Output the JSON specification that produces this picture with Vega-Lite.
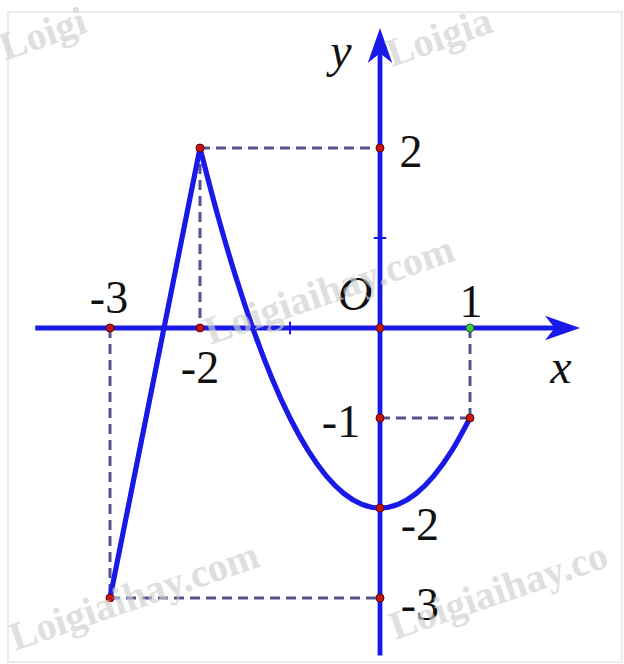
{
  "$schema": "https://vega.github.io/schema/vega-lite/v6.json",
  "width": 624,
  "height": 664,
  "autosize": {"type": "fit", "contains": "padding"},
  "padding": 0,
  "background": "white",
  "config": {"view": {"stroke": null}},
  "datasets": {
    "border": [{"x": -4.133, "y": 3.511, "x2": 2.689, "y2": -3.711}],
    "dash": [
      {"x": -2, "y": 2, "x2": 0, "y2": 2},
      {"x": -2, "y": 2, "x2": -2, "y2": 0},
      {"x": -3, "y": 0, "x2": -3, "y2": -3},
      {"x": -3, "y": -3, "x2": 0, "y2": -3},
      {"x": 1, "y": 0, "x2": 1, "y2": -1},
      {"x": 0, "y": -1, "x2": 1, "y2": -1}
    ],
    "axes": [
      {"x": -3.83, "y": 0, "x2": 2.05, "y2": 0},
      {"x": 0, "y": -3.64, "x2": 0, "y2": 3.1}
    ],
    "ticks": [
      {"x": -1, "y": -0.07, "x2": -1, "y2": 0.07},
      {"x": -0.07, "y": 1, "x2": 0.07, "y2": 1}
    ],
    "curve": [
      {"s": "a", "x": -3, "y": -3},
      {"s": "a", "x": -2, "y": 2},
      {"s": "b", "x": -2, "y": 2},
      {"s": "b", "x": -1.8, "y": 1.24},
      {"s": "b", "x": -1.6, "y": 0.56},
      {"s": "b", "x": -1.4, "y": -0.04},
      {"s": "b", "x": -1.2, "y": -0.56},
      {"s": "b", "x": -1, "y": -1},
      {"s": "b", "x": -0.8, "y": -1.36},
      {"s": "b", "x": -0.6, "y": -1.64},
      {"s": "b", "x": -0.4, "y": -1.84},
      {"s": "b", "x": -0.2, "y": -1.96},
      {"s": "b", "x": 0, "y": -2},
      {"s": "b", "x": 0.2, "y": -1.96},
      {"s": "b", "x": 0.4, "y": -1.84},
      {"s": "b", "x": 0.6, "y": -1.64},
      {"s": "b", "x": 0.8, "y": -1.36},
      {"s": "b", "x": 1, "y": -1}
    ],
    "reddots": [
      {"x": -2, "y": 2}, {"x": 0, "y": 2}, {"x": -3, "y": 0}, {"x": -2, "y": 0},
      {"x": 0, "y": 0}, {"x": 0, "y": -1}, {"x": 1, "y": -1}, {"x": 0, "y": -2},
      {"x": -3, "y": -3}, {"x": 0, "y": -3}
    ],
    "greendots": [{"x": 1, "y": 0}],
    "labels": [
      {"x": 0.344, "y": 1.789, "t": "2"},
      {"x": -3.011, "y": 0.167, "t": "-3"},
      {"x": -2.0, "y": -0.611, "t": "-2"},
      {"x": 1.011, "y": 0.122, "t": "1"},
      {"x": -0.433, "y": -1.211, "t": "-1"},
      {"x": 0.444, "y": -2.356, "t": "-2"},
      {"x": 0.444, "y": -3.244, "t": "-3"}
    ],
    "ilabels": [
      {"x": -0.433, "y": 2.9, "t": "y"},
      {"x": -0.278, "y": 0.2, "t": "O"},
      {"x": 2.011, "y": -0.611, "t": "x"}
    ],
    "marks": [
      {"x": -4.167, "y": 2.97, "t": "Loigi"},
      {"x": 0.133, "y": 2.9, "t": "Loigia"},
      {"x": -1.889, "y": -0.189, "t": "Loigiaihay.com"},
      {"x": -4.056, "y": -3.589, "t": "Loigiaihay.com"},
      {"x": 0.167, "y": -3.467, "t": "Loigiaihay.co"}
    ]
  },
  "encoding": {
    "x": {"field": "x", "type": "quantitative", "axis": null, "scale": {"domain": [-4.2222, 2.7111], "nice": false, "zero": false}},
    "y": {"field": "y", "type": "quantitative", "axis": null, "scale": {"domain": [-3.7333, 3.6444], "nice": false, "zero": false}}
  },
  "layer": [
    {
      "data": {"name": "border"},
      "mark": {"type": "rect", "fill": null, "fillOpacity": 0, "stroke": "#e6e6e6", "strokeWidth": 1.5},
      "encoding": {"x2": {"field": "x2"}, "y2": {"field": "y2"}}
    },
    {
      "data": {"name": "dash"},
      "mark": {"type": "rule", "color": "#52528f", "strokeWidth": 3, "strokeDash": [10, 6]},
      "encoding": {"x2": {"field": "x2"}, "y2": {"field": "y2"}}
    },
    {
      "data": {"name": "axes"},
      "mark": {"type": "rule", "color": "#1a1ae8", "strokeWidth": 4.8},
      "encoding": {"x2": {"field": "x2"}, "y2": {"field": "y2"}}
    },
    {
      "data": {"name": "ticks"},
      "mark": {"type": "rule", "color": "#1a1ae8", "strokeWidth": 2},
      "encoding": {"x2": {"field": "x2"}, "y2": {"field": "y2"}}
    },
    {
      "data": {"values": [{"x": 2.028, "y": 0}]},
      "mark": {"type": "point", "shape": "M1,0 L-1,-0.7 L-0.45,0 L-1,0.7 Z", "size": 1225, "filled": true, "color": "#1a1ae8", "opacity": 1}
    },
    {
      "data": {"values": [{"x": 0, "y": 3.139}]},
      "mark": {"type": "point", "shape": "M0,-1 L-0.7,1 L0,0.45 L0.7,1 Z", "size": 1225, "filled": true, "color": "#1a1ae8", "opacity": 1}
    },
    {
      "data": {"name": "curve"},
      "mark": {"type": "line", "color": "#1a1ae8", "strokeWidth": 5.2, "interpolate": "monotone", "strokeJoin": "miter"},
      "encoding": {"detail": {"field": "s"}}
    },
    {
      "data": {"name": "reddots"},
      "mark": {"type": "circle", "size": 64, "fill": "#c01818", "stroke": "#6a0000", "strokeWidth": 1, "opacity": 1}
    },
    {
      "data": {"name": "greendots"},
      "mark": {"type": "circle", "size": 64, "fill": "#44cc44", "stroke": "#1a6a1a", "strokeWidth": 1, "opacity": 1}
    },
    {
      "data": {"name": "labels"},
      "mark": {"type": "text", "font": "Liberation Serif", "fontSize": 46, "color": "#111111", "align": "center", "baseline": "alphabetic"},
      "encoding": {"text": {"field": "t"}}
    },
    {
      "data": {"name": "ilabels"},
      "mark": {"type": "text", "font": "Liberation Serif", "fontStyle": "italic", "fontSize": 48, "color": "#111111", "align": "center", "baseline": "alphabetic"},
      "encoding": {"text": {"field": "t"}}
    },
    {
      "data": {"name": "marks"},
      "mark": {"type": "text", "font": "Liberation Serif", "fontWeight": "bold", "fontSize": 40, "color": "#cfcfcf", "opacity": 0.65, "align": "left", "baseline": "alphabetic", "angle": -19, "clip": true},
      "encoding": {"text": {"field": "t"}}
    }
  ]
}
